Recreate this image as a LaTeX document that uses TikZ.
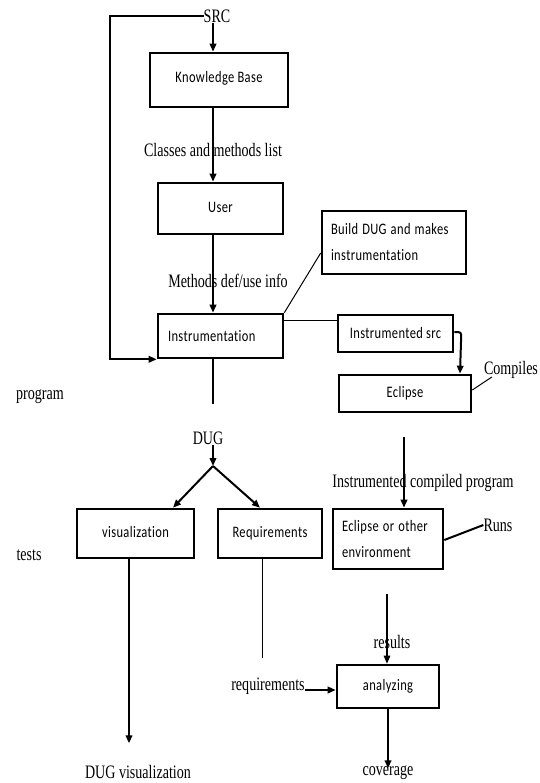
\documentclass[tikz,border=0pt]{standalone}
\usepackage{fontspec}
\setmainfont{Liberation Serif}
\newfontfamily\boxfont[Ligatures=NoCommon,LetterSpace=3]{Carlito}
\usetikzlibrary{arrows.meta,calc}
\newcommand{\lsq}[1]{\scalebox{0.74}[1]{#1}}
\newcommand{\bsq}[1]{\scalebox{0.78}[1]{#1}}
\begin{document}
\begin{tikzpicture}[x=1pt,y=-1pt,
  box/.style={draw, line width=2.6pt, inner sep=0pt, font=\boxfont\fontsize{16}{26}\selectfont},
  lbl/.style={inner sep=0pt, font=\fontsize{19}{20}\selectfont},
  arr/.style={line width=2pt, -{Triangle[length=8pt,width=6.5pt]}},
  tarr/.style={line width=1.1pt, -{Triangle[length=8pt,width=6.5pt]}},
  ln/.style={line width=2pt},
  thinln/.style={line width=1pt},
]
\useasboundingbox (0,0) rectangle (539,783);
\fill[white] (0,0) rectangle (539,783);

% boxes
\node[box, minimum width=138pt, minimum height=54pt] (kb) at (219,80) {\raisebox{7pt}{\bsq{Knowledge Base}}};
\node[box, minimum width=125pt, minimum height=51pt] (user) at (220.5,208.5) {\raisebox{3pt}{\bsq{User}}};
\node[box, minimum width=125pt, minimum height=44pt, text width=105pt, align=left] (instr) at (220.5,336) {\bsq{Instrumentation}};
\node[box, minimum width=144pt, minimum height=63pt, text width=126pt, align=left] (build) at (394,242.5) {\bsq{Build DUG and makes}\\\bsq{instrumentation}};
\node[box, minimum width=115pt, minimum height=37pt] (isrc) at (395.5,333.5) {\bsq{Instrumented src}};
\node[box, minimum width=132pt, minimum height=37pt] (ecl) at (405,393.5) {\bsq{Eclipse}};
\node[box, minimum width=117pt, minimum height=49pt] (vis) at (135.5,533.5) {\raisebox{4pt}{\bsq{visualization}}};
\node[box, minimum width=104pt, minimum height=49pt] (req) at (270,533.5) {\raisebox{4pt}{\bsq{Requirements}}};
\node[box, minimum width=110pt, minimum height=60pt, text width=92pt, align=left] (eoe) at (388,539) {\bsq{Eclipse or other}\\\bsq{environment}};
\node[box, minimum width=102pt, minimum height=43pt] (ana) at (388,686.5) {\raisebox{2pt}{\bsq{analyzing}}};

% labels
\node[lbl] (src) at (217,16) {\lsq{SRC}};
\node[lbl] (classes) at (213,150) {\lsq{Classes and methods list}};
\node[lbl] (methods) at (228,281) {\lsq{Methods def/use info}};
\node[lbl] (program) at (40,397) {\lsq{program}};
\node[lbl] (dug) at (208,438) {\lsq{DUG}};
\node[lbl] (tests) at (29,555) {\lsq{tests}};
\node[lbl] (icp) at (423,483) {\lsq{Instrumented compiled program}};
\node[lbl] (compiles) at (511,370) {\lsq{Compiles}};
\node[lbl] (runs) at (498,525) {\lsq{Runs}};
\node[lbl] (results) at (392,642) {\lsq{results}};
\node[lbl] (reqtxt) at (268,686) {\lsq{requirements}};
\node[lbl] (dugvis) at (138,772) {\lsq{DUG visualization}};
\node[lbl] (coverage) at (388,773) {\lsq{coverage}};

% helper coordinates
\coordinate (spine) at (213,0);
\coordinate (fbx) at (110,0);
\coordinate (fork) at (213,466);
\coordinate (icpstart) at (404,437);
\coordinate (resstart) at (387,594);

% connectors
\draw[arr] (src.west) -- (src.west -| fbx) |- (instr.south west);
\draw[arr] (src.south -| spine) -- (kb.north -| spine);
\draw[arr] (kb.south -| spine) -- (user.north -| spine);
\draw[arr] (user.south -| spine) -- (instr.north -| spine);
\draw[ln] (instr.south -| spine) -- ++(0,45);
\draw[arr] (dug.south -| spine) -- (fork);
\draw[arr] (fork) -- ($(vis.north)+(37.5,0)$);
\draw[arr] (fork) -- ($(req.north)+(-10,0)$);
\draw[arr] ($(vis.south)+(-6.5,0)$) -- ++(0,184);
\draw[thinln] ($(req.south)+(-8,0)$) -- ++(0,99);
\draw[arr] ($(reqtxt.east)+(0,4)$) -- ($(ana.west)+(0,3.5)$);
\draw[tarr] (resstart) -- (ana.north -| resstart);
\draw[arr] (ana.south) -- ++(0,59);
\draw[thinln] (instr.north east) -- ($(build.west)+(0,10.5)$);
\draw[thinln] ($(instr.east)+(0,-16)$) -- ($(isrc.west)+(0,-13.5)$);
\draw[arr, rounded corners=3pt] ($(isrc.east)+(0,-1.5)$) -- ++(7,0) -- ($(ecl.north)+(55,0)$);
\draw[thinln] ($(ecl.east)+(0,-3.5)$) -- ($(compiles.west)+(8,7)$);
\draw[arr] (icpstart) -- (eoe.north -| icpstart);
\draw[ln] ($(eoe.east)+(0,1)$) -- (runs.west);
\end{tikzpicture}
\end{document}
